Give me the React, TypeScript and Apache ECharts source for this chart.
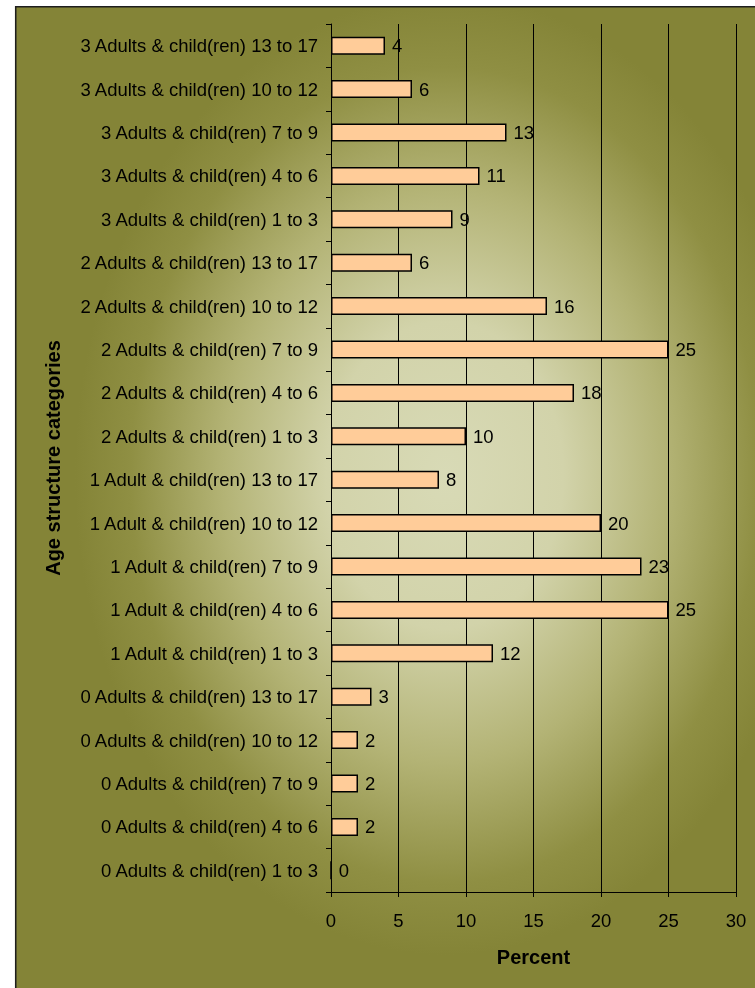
import React, { useEffect, useRef } from "react";
import * as echarts from "echarts";

// Categories listed bottom-to-top (ECharts category axis order for horizontal bars)
const categories: string[] = [
  "0 Adults & child(ren) 1 to 3",
  "0 Adults & child(ren) 4 to 6",
  "0 Adults & child(ren) 7 to 9",
  "0 Adults & child(ren) 10 to 12",
  "0 Adults & child(ren) 13 to 17",
  "1 Adult & child(ren) 1 to 3",
  "1 Adult & child(ren) 4 to 6",
  "1 Adult & child(ren) 7 to 9",
  "1 Adult & child(ren) 10 to 12",
  "1 Adult & child(ren) 13 to 17",
  "2 Adults & child(ren) 1 to 3",
  "2 Adults & child(ren) 4 to 6",
  "2 Adults & child(ren) 7 to 9",
  "2 Adults & child(ren) 10 to 12",
  "2 Adults & child(ren) 13 to 17",
  "3 Adults & child(ren) 1 to 3",
  "3 Adults & child(ren) 4 to 6",
  "3 Adults & child(ren) 7 to 9",
  "3 Adults & child(ren) 10 to 12",
  "3 Adults & child(ren) 13 to 17",
];

const percentValues: number[] = [
  0, 2, 2, 2, 3,
  12, 25, 23, 20, 8,
  10, 18, 25, 16, 6,
  9, 11, 13, 6, 4,
];

const xTicks = { min: 0, max: 30, interval: 5 };

const FONT = "'Liberation Sans', Arial, Helvetica, sans-serif";

export default function App() {
  const ref = useRef<HTMLDivElement>(null);

  useEffect(() => {
    if (!ref.current) return;
    const chart = echarts.init(ref.current, undefined, { renderer: "svg" });

    const cx = 445;
    const cy = 475;
    const rx = 370;
    const ry = 480;
    const sx = rx / ry;

    chart.setOption({
      animation: false,
      graphic: [
        {
          type: "rect",
          z: -20,
          silent: true,
          shape: { x: 15, y: 6, width: 800, height: 1000 },
          style: { fill: "#848437" },
        },
        {
          type: "rect",
          z: -19,
          silent: true,
          x: cx,
          y: cy,
          scaleX: sx,
          scaleY: 1,
          shape: {
            x: (15 - cx) / sx,
            y: 6 - cy,
            width: 800 / sx,
            height: 1000,
          },
          style: {
            fill: {
              type: "radial",
              x: 0,
              y: 0,
              r: ry,
              global: true,
              colorStops: [
                { offset: 0, color: "#d8dab6" },
                { offset: 0.32, color: "#d2d3aa" },
                { offset: 0.6, color: "#b3b375" },
                { offset: 0.85, color: "#8f8f43" },
                { offset: 1, color: "#848437" },
              ],
            },
          },
        },
        {
          type: "rect",
          z: 100,
          silent: true,
          shape: { x: 15.75, y: 6.75, width: 800, height: 1000 },
          style: { fill: "none", stroke: "#1e1e1e", lineWidth: 1.5 },
        },
      ],
      grid: {
        left: 331,
        right: 19,
        top: 24,
        bottom: 96,
        containLabel: false,
        outerBoundsMode: "none",
      },
      xAxis: {
        type: "value",
        min: xTicks.min,
        max: xTicks.max,
        interval: xTicks.interval,
        name: "Percent",
        nameLocation: "middle",
        nameGap: 55,
        nameTextStyle: {
          color: "#000",
          fontSize: 20,
          fontWeight: "bold",
          fontFamily: FONT,
        },
        axisLine: { show: true, lineStyle: { color: "#000", width: 1 } },
        axisTick: { show: true, length: 5, lineStyle: { color: "#000" } },
        axisLabel: {
          color: "#000",
          fontSize: 18.5,
          fontFamily: FONT,
          margin: 19,
        },
        splitLine: { show: true, lineStyle: { color: "#000", width: 1 } },
      },
      yAxis: {
        type: "category",
        data: categories,
        name: "Age structure categories",
        nameLocation: "middle",
        nameGap: 268,
        nameTextStyle: {
          color: "#000",
          fontSize: 20,
          fontWeight: "bold",
          fontFamily: FONT,
        },
        axisLine: { show: true, lineStyle: { color: "#000", width: 1 } },
        axisTick: {
          show: true,
          length: 5,
          alignWithLabel: false,
          lineStyle: { color: "#000" },
        },
        axisLabel: {
          color: "#000",
          fontSize: 18.5,
          fontFamily: FONT,
          margin: 13,
          interval: 0,
        },
        splitLine: { show: false },
      },
      series: [
        {
          type: "bar",
          data: percentValues,
          barWidth: 18,
          itemStyle: {
            color: "#ffcc99",
            borderColor: "#000",
            borderWidth: 1.5,
          },
          label: {
            show: true,
            position: "right",
            distance: 7,
            color: "#000",
            fontSize: 18.5,
            fontFamily: FONT,
          },
        },
      ],
    });

    return () => chart.dispose();
  }, []);

  return (
    <div
      ref={ref}
      style={{ position: "fixed", left: 0, top: 0, width: 755, height: 988 }}
    />
  );
}
